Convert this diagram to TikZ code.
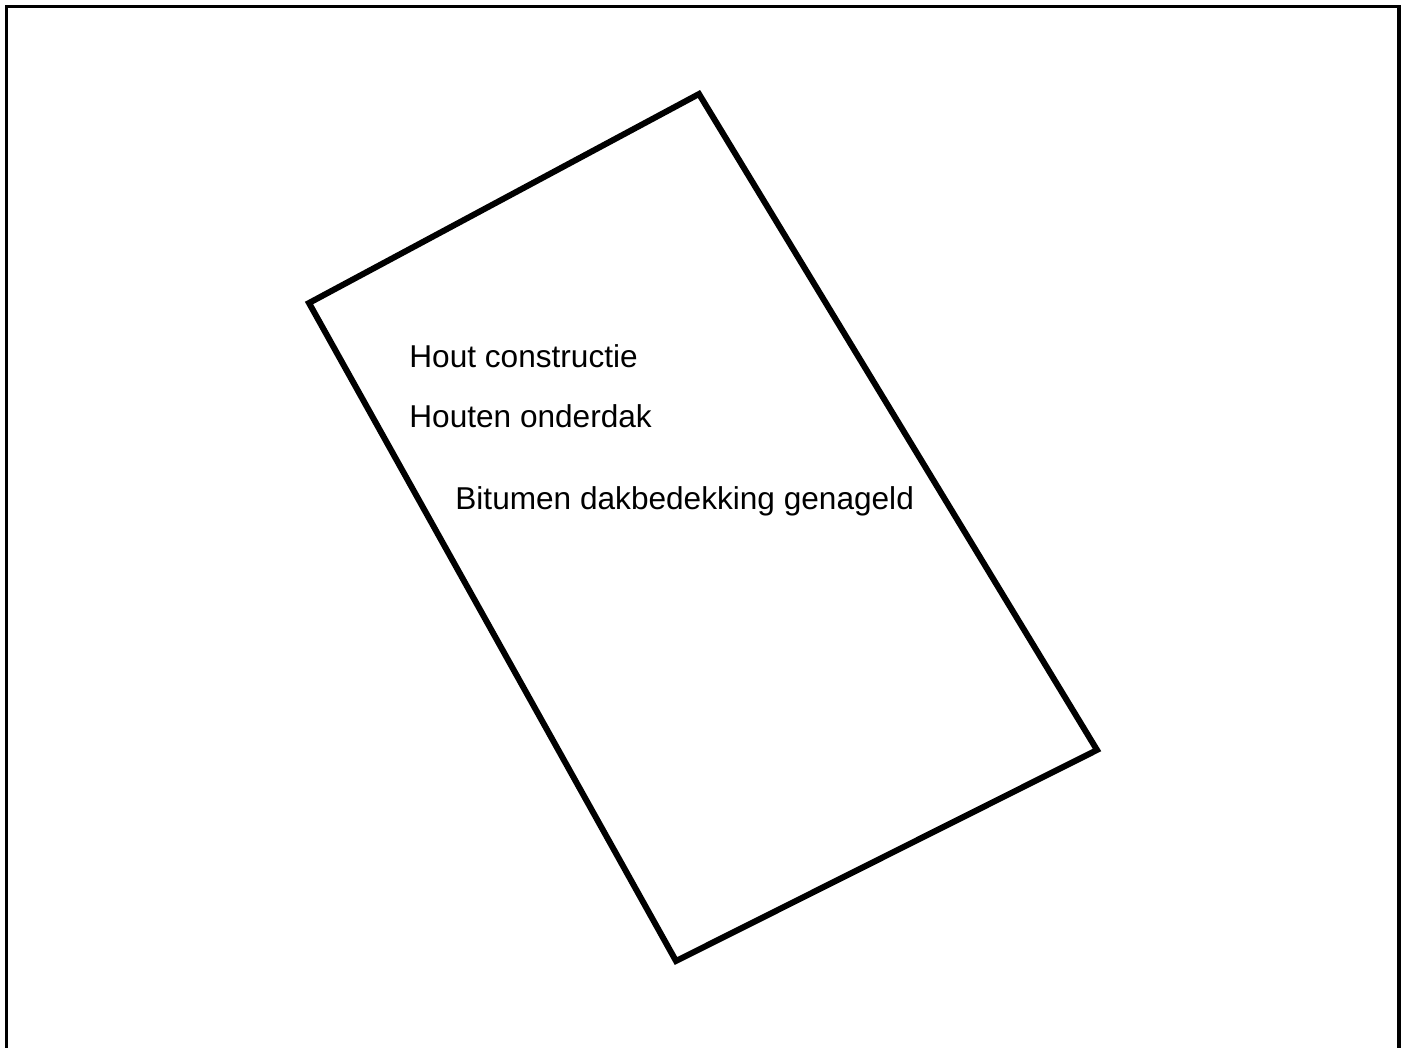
\documentclass[tikz,border=0pt]{standalone}
\usepackage{fontspec}
\setmainfont{Liberation Sans}
\usepackage{tikz}
\tikzset{frame/.style={draw=black,line width=1.75pt},roof/.style={draw=black,line width=3pt,line join=miter},lab/.style={anchor=base west,inner sep=0pt,font=\fontsize{15.8}{18}\selectfont}}
\begin{document}
\begin{tikzpicture}[x=0.5pt,y=-0.5pt]
\useasboundingbox (0,0) rectangle (1407,1048);
\draw[frame] (6.5,1060) -- (6.5,6.5) -- (1399,6.5) -- (1399,1060);
\coordinate (west) at (309,303);
\coordinate (north) at (699,94);
\coordinate (east) at (1097,750);
\coordinate (south) at (676,961);
\draw[roof] (west) -- (north) -- (east) -- (south) -- cycle;
\node[lab] (hout) at (409,367) {Hout constructie};
\node[lab] (onderdak) at (409,427) {Houten onderdak};
\node[lab] (bitumen) at (455,509) {Bitumen dakbedekking genageld};
\end{tikzpicture}
\end{document}
